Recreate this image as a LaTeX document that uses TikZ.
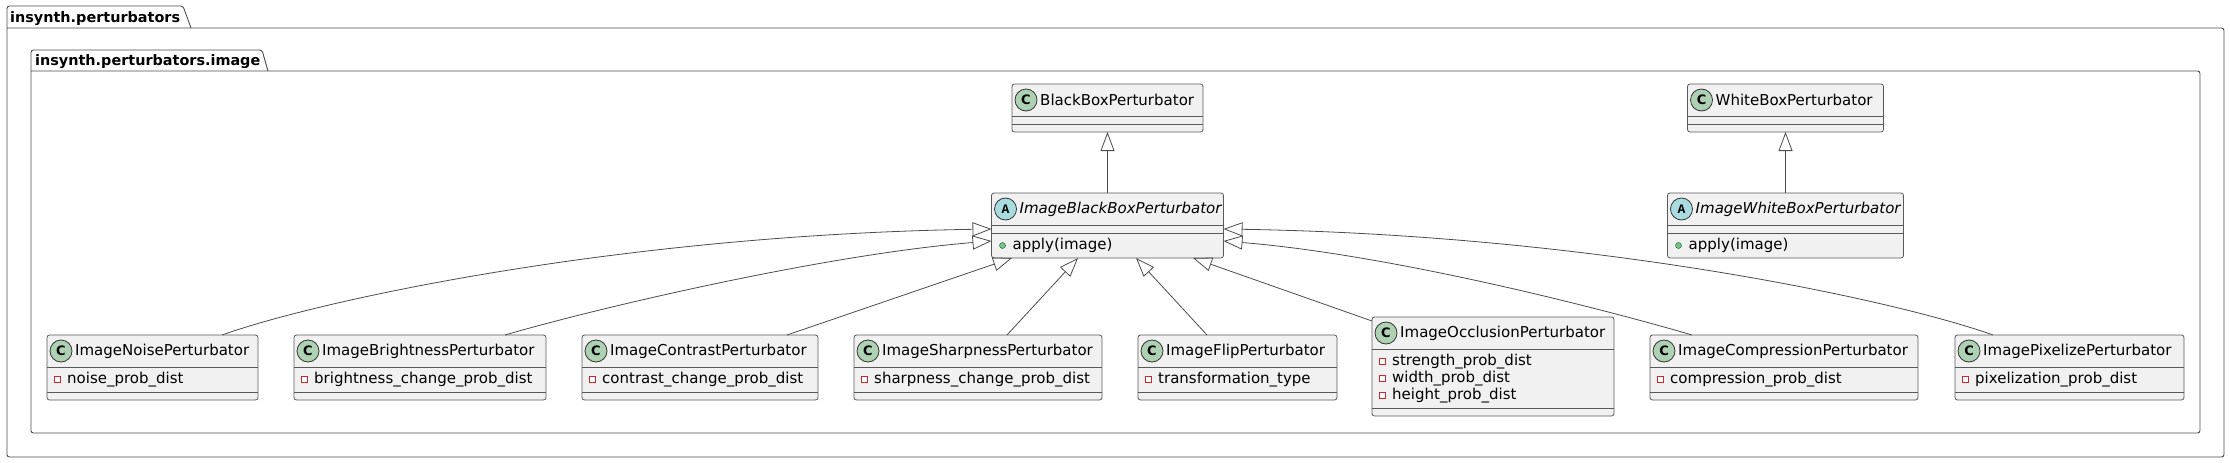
\documentclass[tikz,border=0pt]{standalone}
\usepackage{fontspec}
\setmainfont{DejaVu Sans}
\newfontfamily\stereofont{Liberation Mono}
\usetikzlibrary{arrows.meta}

\definecolor{classfill}{HTML}{F1F1F1}
\definecolor{classC}{HTML}{ADD1B2}
\definecolor{classA}{HTML}{A9DCDF}
\definecolor{fieldred}{HTML}{C82930}
\definecolor{methodfill}{HTML}{84BE84}
\definecolor{methoddraw}{HTML}{038048}

\tikzset{
  package line/.style={draw=black!70, line width=0.9pt, rounded corners=2.5pt},
  package title/.style={font=\fontsize{14.4}{17}\selectfont\bfseries, anchor=base west, inner sep=0pt},
  class box/.style={draw=black!65, fill=classfill, line width=0.8pt, rounded corners=2.5pt, inner sep=0pt, outer sep=0pt},
  class line/.style={draw=black!65, line width=0.8pt},
  stereo C/.style={circle, draw=black!80, fill=classC, line width=0.8pt, minimum size=22pt, inner sep=0pt, font=\fontsize{13}{13}\selectfont\bfseries},
  stereo A/.style={stereo C, fill=classA, font=\fontsize{13}{13}\selectfont\stereofont\bfseries},
  class title C/.style={anchor=west, inner sep=0pt},
  class title A/.style={class title C, font=\fontsize{15}{17}\selectfont\itshape},
  field mark/.style={draw=fieldred, fill=white, line width=0.7pt, minimum size=6pt, inner sep=0pt},
  method mark/.style={circle, draw=methoddraw, fill=methodfill, line width=0.5pt, minimum size=6pt, inner sep=0pt},
  member/.style={anchor=west, inner sep=0pt},
  generalization/.style={draw=black!70, line width=0.8pt, -{Triangle[open, length=19pt, width=14pt]}},
}

% #1 id, #2 kind, #3 north west corner, #4 width, #5 title,
% #6 number of fields, #7 fields, #8 number of methods, #9 methods
\newcommand{\umlclass}[9]{%
  \pgfmathsetmacro\attrh{#6==0 ? 8 : 8+17*#6}%
  \pgfmathsetmacro\methh{#8==0 ? 8 : 8+17*#8}%
  \pgfmathsetmacro\classh{32+\attrh+\methh}%
  \node[class box, minimum width=#4pt, minimum height=\classh pt, anchor=north west] (#1) at (#3) {};
  \draw[class line] (#1.north west) ++(0,32) -- ++(#4,0);
  \draw[class line] (#1.north west) ++(0,{32+\attrh}) -- ++(#4,0);
  \path (#1.north west) ++(14,16) node[stereo #2] (#1 mark) {#2}
    ++(14,0) node[class title #2] (#1 title) {#5};
  \ifnum#6>0
    \foreach \a [count=\i] in {#7}
      \path (#1.north west) ++(10.5,{44.5+17*(\i-1)}) node[field mark] (#1 field mark \i) {}
        ++(9.5,0) node[member] (#1 field \i) {\a};
  \fi
  \ifnum#8>0
    \foreach \m [count=\i] in {#9}
      \path (#1.north west) ++(11,{44.5+\attrh+17*(\i-1)}) node[method mark] (#1 method mark \i) {}
        ++(10,0) node[member] (#1 method \i) {\m};
  \fi
}

\begin{document}
\begin{tikzpicture}[x=1pt, y=-1pt, font=\fontsize{15}{17}\selectfont]
\useasboundingbox (0,0) rectangle (2230,463);

% packages
\draw[package line] (7,28) -- (7,6) -- (183,6) -- (191,28);
\draw[package line] (7,28) -- (2224,28) -- (2224,457) -- (7,457) -- (7,28);
\node[package title] (outer title) at (10,22) {insynth.perturbators};
\draw[package line] (31,71) -- (31,50) -- (262,50) -- (268,71);
\draw[package line] (31,71) -- (2200,71) -- (2200,433) -- (31,433) -- (31,71);
\node[package title] (inner title) at (35,65) {insynth.perturbators.image};

\umlclass{bbp}{C}{1012,84}{191}{BlackBoxPerturbator}{0}{}{0}{}
\umlclass{wbp}{C}{1687.5,84}{196}{WhiteBoxPerturbator}{0}{}{0}{}
\umlclass{ibb}{A}{991.5,193}{232}{ImageBlackBoxPerturbator}{0}{}{1}{apply(image)}
\umlclass{iwb}{A}{1667.5,193}{236}{ImageWhiteBoxPerturbator}{0}{}{1}{apply(image)}
\umlclass{noise}{C}{47,335}{211}{ImageNoisePerturbator}{1}{noise\_prob\_dist}{0}{}
\umlclass{bright}{C}{294,335}{252}{ImageBrightnessPerturbator}{1}{brightness\_change\_prob\_dist}{0}{}
\umlclass{contrast}{C}{582,335}{236}{ImageContrastPerturbator}{1}{contrast\_change\_prob\_dist}{0}{}
\umlclass{sharp}{C}{854,335}{248}{ImageSharpnessPerturbator}{1}{sharpness\_change\_prob\_dist}{0}{}
\umlclass{flip}{C}{1138,335}{199}{ImageFlipPerturbator}{1}{transformation\_type}{0}{}
\umlclass{occl}{C}{1372,317}{242}{ImageOcclusionPerturbator}{3}{strength\_prob\_dist, width\_prob\_dist, height\_prob\_dist}{0}{}
\umlclass{compr}{C}{1650,335}{268}{ImageCompressionPerturbator}{1}{compression\_prob\_dist}{0}{}
\umlclass{pixel}{C}{1955,335}{229}{ImagePixelizePerturbator}{1}{pixelization\_prob\_dist}{0}{}

% inheritance
\draw[generalization] (ibb.north) -- (bbp.south);
\draw[generalization] (iwb.north) -- (wbp.south);
\draw[generalization] ([xshift=69.5pt]noise.north) .. controls +(98,-35) and +(-371,6) .. ([yshift=-3.5pt]ibb.west);
\draw[generalization] ([xshift=85pt]bright.north) .. controls +(85,-25) and +(-171,14) .. ([yshift=-15.5pt]ibb.west);
\draw[generalization] ([xshift=87pt]contrast.north) -- ([xshift=-95.5pt]ibb.south);
\draw[generalization] ([xshift=29pt]sharp.north) -- ([xshift=-29.5pt]ibb.south);
\draw[generalization] ([xshift=-30.5pt]flip.north) -- ([xshift=28.5pt]ibb.south);
\draw[generalization] ([yshift=-4pt]occl.north west) -- ([xshift=85.5pt]ibb.south);
\draw[generalization] ([xshift=-92pt]compr.north) .. controls +(-85,-25) and +(171,14) .. ([yshift=-15.5pt]ibb.east);
\draw[generalization] ([xshift=-76.5pt]pixel.north) .. controls +(-98,-35) and +(371,6) .. ([yshift=-3.5pt]ibb.east);
\end{tikzpicture}
\end{document}
